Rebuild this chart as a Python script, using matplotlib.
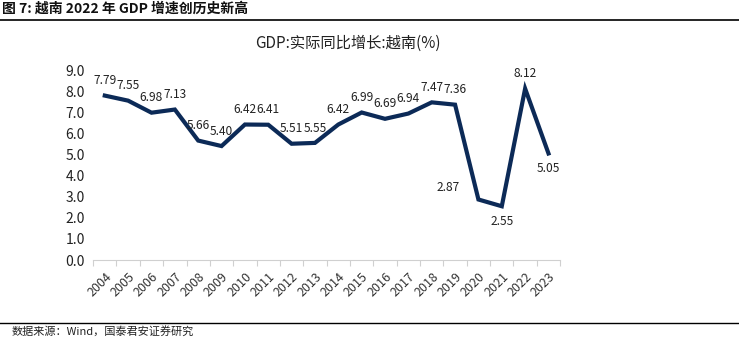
import matplotlib.pyplot as plt
from matplotlib.lines import Line2D

plt.rcParams['font.family'] = ['Noto Sans CJK SC', 'DejaVu Sans']

# data
years = [str(y) for y in range(2004, 2024)]
gdp = [7.79, 7.55, 6.98, 7.13, 5.66, 5.40, 6.42, 6.41, 5.51, 5.55,
       6.42, 6.99, 6.69, 6.94, 7.47, 7.36, 2.87, 2.55, 8.12, 5.05]
yticks = [0, 1, 2, 3, 4, 5, 6, 7, 8, 9]

fig = plt.figure(figsize=(7.39, 3.40), dpi=100)
ax = fig.add_axes([0.126, 0.235, 0.632, 0.559])

x = list(range(len(years)))
ax.plot(x, gdp, color='#0c2a57', lw=3, clip_on=False, solid_joinstyle='miter')

# value labels (neighbours sit close together, as in the source)
for i, v in enumerate(gdp):
    dx, dy, va = 0, 6, 'bottom'
    if years[i] == '2020':
        dx, dy, va = -22, 4, 'bottom'
    elif years[i] in ('2021', '2023'):
        dx, dy, va = 0, -6, 'top'
    ax.annotate(f'{v:.2f}', (i, v), xytext=(dx, dy), textcoords='offset points',
                ha='center', va=va, fontsize=8.6, color='#222222')

ax.set_xlim(-0.5, len(years) - 0.5)
ax.set_ylim(0, 9)
ax.set_yticks(yticks)
ax.set_yticklabels([f'{t:.1f}' for t in yticks], fontsize=10, color='#222222')
ax.tick_params(axis='y', length=0, pad=6)

ax.set_xticks([i - 0.5 for i in range(len(years) + 1)])
ax.set_xticklabels([])
ax.set_xticks(x, minor=True)
ax.set_xticklabels(years, minor=True, rotation=45, ha='right',
                   rotation_mode='anchor', fontsize=9, color='#333333')
ax.tick_params(axis='x', which='major', length=4, color='#d0d0d0')
ax.tick_params(axis='x', which='minor', length=0, pad=7)

for s in ('top', 'right', 'left'):
    ax.spines[s].set_visible(False)
ax.spines['bottom'].set_color('#d0d0d0')

fig.text(348 / 739, 1 - 43 / 340, 'GDP:实际同比增长:越南(%)', ha='center', va='center',
         fontsize=11, color='#222222')

# header / footer
fig.text(0.003, 1 - 9 / 340, '图 7: 越南 2022 年 GDP 增速创历史新高', ha='left', va='center',
         fontsize=10, fontweight='bold', color='#111111')
fig.add_artist(Line2D([0, 1], [1 - 20 / 340, 1 - 20 / 340], color='black', lw=1.2))
fig.add_artist(Line2D([0, 1], [1 - 323 / 340, 1 - 323 / 340], color='black', lw=1.0))
fig.text(12 / 739, 1 - 331 / 340, '数据来源：Wind，国泰君安证券研究', ha='left', va='center',
         fontsize=8, color='#222222')

fig.savefig('out.png', dpi=100)
